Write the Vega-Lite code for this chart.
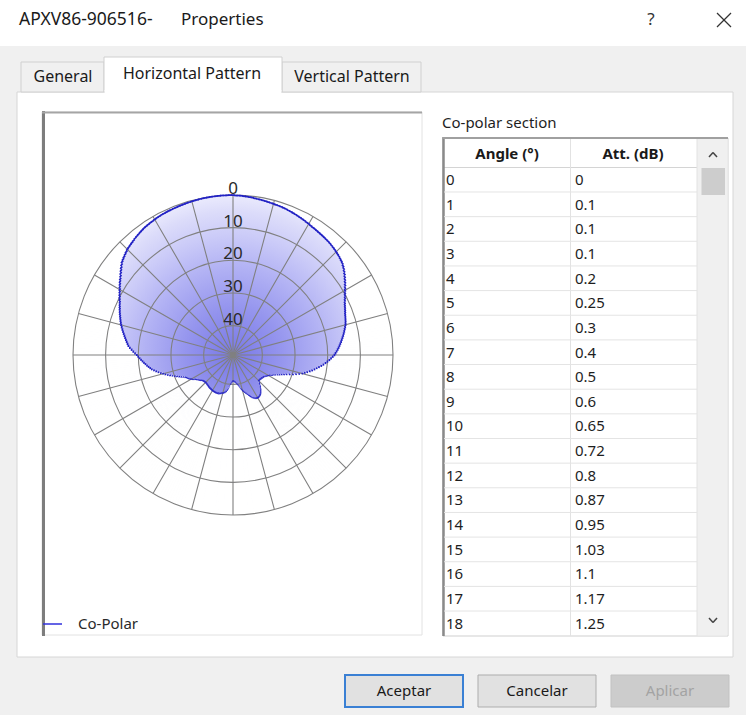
{
"$schema": "https://vega.github.io/schema/vega-lite/v6.json",
"width": 746, "height": 715,
"autosize": {"type": "fit", "contains": "padding"},
"padding": 0,
"background": "#ffffff",
"config": {"view": {"stroke": null}, "axis": {"disable": true}, "legend": {"disable": true}, "font": "Noto Sans"},
"data": {"values": [{}]},
"datasets": {
"pat": [
{"a":0,"att":0},{"a":1,"att":0.1},{"a":2,"att":0.1},{"a":3,"att":0.1},{"a":4,"att":0.2},{"a":5,"att":0.25},{"a":6,"att":0.3},{"a":7,"att":0.4},{"a":8,"att":0.5},{"a":9,"att":0.6},
{"a":10,"att":0.65},{"a":11,"att":0.72},{"a":12,"att":0.8},{"a":13,"att":0.87},{"a":14,"att":0.95},{"a":15,"att":1.03},{"a":16,"att":1.1},{"a":17,"att":1.17},{"a":18,"att":1.25},{"a":19,"att":1.33},
{"a":20,"att":1.42},{"a":21,"att":1.52},{"a":22,"att":1.62},{"a":23,"att":1.73},{"a":24,"att":1.85},{"a":25,"att":1.97},{"a":26,"att":2.1},{"a":27,"att":2.23},{"a":28,"att":2.36},{"a":29,"att":2.5},
{"a":30,"att":2.62},{"a":31,"att":2.74},{"a":32,"att":2.85},{"a":33,"att":2.95},{"a":34,"att":3.05},{"a":35,"att":3.14},{"a":36,"att":3.23},{"a":37,"att":3.32},{"a":38,"att":3.41},{"a":39,"att":3.5},
{"a":40,"att":3.6},{"a":41,"att":3.7},{"a":42,"att":3.82},{"a":43,"att":3.95},{"a":44,"att":4.1},{"a":45,"att":4.25},{"a":46,"att":4.42},{"a":47,"att":4.6},{"a":48,"att":4.8},{"a":49,"att":5.02},
{"a":50,"att":5.25},{"a":51,"att":5.6},{"a":52,"att":5.95},{"a":53,"att":6.35},{"a":54,"att":6.75},{"a":55,"att":7.2},{"a":56,"att":7.62},{"a":57,"att":8.05},{"a":58,"att":8.48},{"a":59,"att":8.92},
{"a":60,"att":9.35},{"a":61,"att":9.75},{"a":62,"att":10.12},{"a":63,"att":10.48},{"a":64,"att":10.84},{"a":65,"att":11.18},{"a":66,"att":11.45},{"a":67,"att":11.7},{"a":68,"att":11.94},{"a":69,"att":12.17},
{"a":70,"att":12.4},{"a":71,"att":12.57},{"a":72,"att":12.74},{"a":73,"att":12.92},{"a":74,"att":13.1},{"a":75,"att":13.3},{"a":76,"att":13.57},{"a":77,"att":13.85},{"a":78,"att":14.13},{"a":79,"att":14.41},
{"a":80,"att":14.7},{"a":81,"att":15.0},{"a":82,"att":15.3},{"a":83,"att":15.6},{"a":84,"att":15.9},{"a":85,"att":16.2},{"a":86,"att":16.52},{"a":87,"att":16.85},{"a":88,"att":17.19},{"a":89,"att":17.54},
{"a":90,"att":17.9},{"a":91,"att":18.4},{"a":92,"att":18.9},{"a":93,"att":19.4},{"a":94,"att":19.95},{"a":95,"att":20.5},{"a":96,"att":21.1},{"a":97,"att":21.7},{"a":98,"att":22.35},{"a":99,"att":22.98},
{"a":100,"att":23.6},{"a":101,"att":24.25},{"a":102,"att":24.9},{"a":103,"att":25.6},{"a":104,"att":26.3},{"a":105,"att":26.95},{"a":106,"att":27.85},{"a":107,"att":28.75},{"a":108,"att":29.65},{"a":109,"att":30.6},
{"a":110,"att":31.5},{"a":111,"att":32.2},{"a":112,"att":32.85},{"a":113,"att":33.45},{"a":114,"att":34.0},{"a":115,"att":34.6},{"a":116,"att":35.0},{"a":117,"att":35.4},{"a":118,"att":35.75},{"a":119,"att":36.1},
{"a":120,"att":36.4},{"a":121,"att":36.6},{"a":122,"att":36.8},{"a":123,"att":37.0},{"a":124,"att":37.2},{"a":125,"att":37.4},{"a":126,"att":37.45},{"a":127,"att":37.5},{"a":128,"att":37.6},{"a":129,"att":37.65},
{"a":130,"att":37.7},{"a":131,"att":37.75},{"a":132,"att":37.8},{"a":133,"att":37.8},{"a":134,"att":37.8},{"a":135,"att":37.8},{"a":136,"att":37.4},{"a":137,"att":37.0},{"a":138,"att":36.6},{"a":139,"att":36.2},
{"a":140,"att":35.8},{"a":141,"att":35.45},{"a":142,"att":35.1},{"a":143,"att":34.8},{"a":144,"att":34.55},{"a":145,"att":34.3},{"a":146,"att":34.15},{"a":147,"att":34.0},{"a":148,"att":33.9},{"a":149,"att":33.85},
{"a":150,"att":33.8},{"a":151,"att":33.85},{"a":152,"att":33.95},{"a":153,"att":34.1},{"a":154,"att":34.3},{"a":155,"att":34.5},{"a":156,"att":34.8},{"a":157,"att":35.15},{"a":158,"att":35.5},{"a":159,"att":35.85},
{"a":160,"att":36.2},{"a":161,"att":36.5},{"a":162,"att":36.8},{"a":163,"att":37.1},{"a":164,"att":37.4},{"a":165,"att":37.7},{"a":166,"att":38.05},{"a":167,"att":38.4},{"a":168,"att":38.8},{"a":169,"att":39.15},
{"a":170,"att":39.5},{"a":171,"att":39.75},{"a":172,"att":40.0},{"a":173,"att":40.2},{"a":174,"att":40.4},{"a":175,"att":40.6},{"a":176,"att":40.7},{"a":177,"att":40.8},{"a":178,"att":40.9},{"a":179,"att":40.95},
{"a":180,"att":41.0},{"a":181,"att":40.85},{"a":182,"att":40.7},{"a":183,"att":40.5},{"a":184,"att":40.25},{"a":185,"att":40.0},{"a":186,"att":39.5},{"a":187,"att":39.0},{"a":188,"att":38.5},{"a":189,"att":38.1},
{"a":190,"att":37.7},{"a":191,"att":37.5},{"a":192,"att":37.3},{"a":193,"att":37.15},{"a":194,"att":37.0},{"a":195,"att":36.9},{"a":196,"att":36.8},{"a":197,"att":36.7},{"a":198,"att":36.6},{"a":199,"att":36.5},
{"a":200,"att":36.4},{"a":201,"att":36.38},{"a":202,"att":36.35},{"a":203,"att":36.32},{"a":204,"att":36.3},{"a":205,"att":36.3},{"a":206,"att":36.32},{"a":207,"att":36.34},{"a":208,"att":36.36},{"a":209,"att":36.38},
{"a":210,"att":36.4},{"a":211,"att":36.45},{"a":212,"att":36.5},{"a":213,"att":36.55},{"a":214,"att":36.6},{"a":215,"att":36.6},{"a":216,"att":36.65},{"a":217,"att":36.7},{"a":218,"att":36.8},{"a":219,"att":36.85},
{"a":220,"att":36.9},{"a":221,"att":36.95},{"a":222,"att":37.0},{"a":223,"att":37.05},{"a":224,"att":37.1},{"a":225,"att":37.1},{"a":226,"att":37.05},{"a":227,"att":37.0},{"a":228,"att":36.95},{"a":229,"att":36.9},
{"a":230,"att":36.8},{"a":231,"att":36.6},{"a":232,"att":36.4},{"a":233,"att":36.2},{"a":234,"att":36.0},{"a":235,"att":35.8},{"a":236,"att":35.5},{"a":237,"att":35.2},{"a":238,"att":34.85},{"a":239,"att":34.5},
{"a":240,"att":34.2},{"a":241,"att":33.9},{"a":242,"att":33.6},{"a":243,"att":33.35},{"a":244,"att":33.1},{"a":245,"att":32.8},{"a":246,"att":32.3},{"a":247,"att":31.75},{"a":248,"att":31.2},{"a":249,"att":30.6},
{"a":250,"att":30.0},{"a":251,"att":29.35},{"a":252,"att":28.7},{"a":253,"att":28.05},{"a":254,"att":27.4},{"a":255,"att":26.8},{"a":256,"att":26.15},{"a":257,"att":25.5},{"a":258,"att":24.9},{"a":259,"att":24.3},
{"a":260,"att":23.7},{"a":261,"att":23.27},{"a":262,"att":22.85},{"a":263,"att":22.43},{"a":264,"att":22.0},{"a":265,"att":21.6},{"a":266,"att":21.18},{"a":267,"att":20.76},{"a":268,"att":20.34},{"a":269,"att":19.92},
{"a":270,"att":19.5},{"a":271,"att":18.95},{"a":272,"att":18.4},{"a":273,"att":17.85},{"a":274,"att":17.3},{"a":275,"att":16.8},{"a":276,"att":16.48},{"a":277,"att":16.16},{"a":278,"att":15.84},{"a":279,"att":15.52},
{"a":280,"att":15.2},{"a":281,"att":14.86},{"a":282,"att":14.52},{"a":283,"att":14.18},{"a":284,"att":13.84},{"a":285,"att":13.5},{"a":286,"att":13.22},{"a":287,"att":12.94},{"a":288,"att":12.66},{"a":289,"att":12.38},
{"a":290,"att":12.1},{"a":291,"att":11.82},{"a":292,"att":11.54},{"a":293,"att":11.26},{"a":294,"att":10.98},{"a":295,"att":10.7},{"a":296,"att":10.34},{"a":297,"att":9.98},{"a":298,"att":9.62},{"a":299,"att":9.26},
{"a":300,"att":8.9},{"a":301,"att":8.5},{"a":302,"att":8.1},{"a":303,"att":7.7},{"a":304,"att":7.3},{"a":305,"att":6.9},{"a":306,"att":6.44},{"a":307,"att":5.98},{"a":308,"att":5.52},{"a":309,"att":5.06},
{"a":310,"att":4.6},{"a":311,"att":4.32},{"a":312,"att":4.04},{"a":313,"att":3.76},{"a":314,"att":3.48},{"a":315,"att":3.2},{"a":316,"att":3.02},{"a":317,"att":2.84},{"a":318,"att":2.66},{"a":319,"att":2.48},
{"a":320,"att":2.3},{"a":321,"att":2.14},{"a":322,"att":1.98},{"a":323,"att":1.82},{"a":324,"att":1.66},{"a":325,"att":1.5},{"a":326,"att":1.4},{"a":327,"att":1.3},{"a":328,"att":1.2},{"a":329,"att":1.1},
{"a":330,"att":1.0},{"a":331,"att":0.93},{"a":332,"att":0.87},{"a":333,"att":0.8},{"a":334,"att":0.74},{"a":335,"att":0.67},{"a":336,"att":0.63},{"a":337,"att":0.59},{"a":338,"att":0.54},{"a":339,"att":0.5},
{"a":340,"att":0.46},{"a":341,"att":0.42},{"a":342,"att":0.38},{"a":343,"att":0.33},{"a":344,"att":0.29},{"a":345,"att":0.25},{"a":346,"att":0.22},{"a":347,"att":0.19},{"a":348,"att":0.16},{"a":349,"att":0.13},
{"a":350,"att":0.1},{"a":351,"att":0.08},{"a":352,"att":0.06},{"a":353,"att":0.04},{"a":354,"att":0.02},{"a":355,"att":0},{"a":356,"att":0},{"a":357,"att":0},{"a":358,"att":0},{"a":359,"att":0}
]
},
"resolve": {"scale": {"y": "independent"}},
"layer": [
{"layer": [
{"mark": {"type": "rect", "fill": "#f0f0f0"},
 "encoding": {
  "x": {"datum": 0, "type": "quantitative", "scale": {"domain": [0, 746], "nice": false, "zero": false}},
  "x2": {"datum": 746},
  "y": {"datum": 0, "type": "quantitative", "scale": {"domain": [0, 715], "nice": false, "zero": false, "reverse": true}},
  "y2": {"datum": 715}}},
{"mark": {"type": "rect", "fill": "#ffffff"},
 "encoding": {"x": {"datum": 0}, "x2": {"datum": 746}, "y": {"datum": 0}, "y2": {"datum": 46}}},
{"mark": {"type": "rect", "fill": "#ffffff", "stroke": "#d6d6d6", "strokeWidth": 1},
 "encoding": {"x": {"datum": 17}, "x2": {"datum": 733}, "y": {"datum": 92}, "y2": {"datum": 657}}},
{"mark": {"type": "rect", "fill": "#f0f0f0", "stroke": "#d0d0d0", "strokeWidth": 1},
 "encoding": {"x": {"datum": 21}, "x2": {"datum": 104}, "y": {"datum": 62}, "y2": {"datum": 92}}},
{"mark": {"type": "rect", "fill": "#f0f0f0", "stroke": "#d0d0d0", "strokeWidth": 1},
 "encoding": {"x": {"datum": 282}, "x2": {"datum": 421}, "y": {"datum": 62}, "y2": {"datum": 92}}},
{"mark": {"type": "rect", "fill": "#ffffff", "stroke": "#d0d0d0", "strokeWidth": 1},
 "encoding": {"x": {"datum": 104}, "x2": {"datum": 282}, "y": {"datum": 57}, "y2": {"datum": 92}}},
{"mark": {"type": "rect", "fill": "#ffffff"},
 "encoding": {"x": {"datum": 104.6}, "x2": {"datum": 281.4}, "y": {"datum": 90}, "y2": {"datum": 93.5}}},
{"mark": {"type": "text", "align": "center", "baseline": "middle", "fontSize": 16, "color": "#1a1a1a"},
 "encoding": {"x": {"datum": 63}, "y": {"datum": 77}, "text": {"value": "General"}}},
{"mark": {"type": "text", "align": "center", "baseline": "middle", "fontSize": 16, "color": "#1a1a1a"},
 "encoding": {"x": {"datum": 192}, "y": {"datum": 74}, "text": {"value": "Horizontal Pattern"}}},
{"mark": {"type": "text", "align": "center", "baseline": "middle", "fontSize": 16, "color": "#1a1a1a"},
 "encoding": {"x": {"datum": 352}, "y": {"datum": 77}, "text": {"value": "Vertical Pattern"}}},

{"mark": {"type": "rect", "fill": "#ffffff", "stroke": "#e2e2e2", "strokeWidth": 1},
 "encoding": {"x": {"datum": 42}, "x2": {"datum": 422}, "y": {"datum": 112}, "y2": {"datum": 635}}},

{"mark": {"type": "arc", "strokeWidth": 0, "radius": 160, "radius2": 0,
  "fill": {"gradient": "radial", "x1": 0.5, "y1": 0.5, "r1": 0, "x2": 0.5, "y2": 0.5, "r2": 0.5,
   "stops": [{"offset": 0, "color": "#7878e6"}, {"offset": 0.3, "color": "#9595ee"}, {"offset": 0.55, "color": "#b2b2f4"}, {"offset": 0.75, "color": "#cbcbf8"}, {"offset": 0.9, "color": "#dcdcfa"}, {"offset": 1, "color": "#ebebfd"}]}},
 "encoding": {"x": {"datum": 233, "stack": null}, "y": {"datum": 355}}},

{"data": {"name": "pat"},
 "mark": {"type": "arc", "fill": "#ffffff", "stroke": "#ffffff", "strokeWidth": 1, "thetaOffset": -0.0095, "theta2Offset": 0.0095, "radius2": 162},
 "encoding": {
  "x": {"datum": 233, "stack": null}, "y": {"datum": 355},
  "theta": {"field": "a", "type": "quantitative", "stack": null, "scale": {"domain": [0, 360], "range": [0, 6.283185307179586]}},
  "theta2": {"field": "a"},
  "radius": {"field": "att", "type": "quantitative", "stack": null, "scale": {"type": "linear", "domain": [0, 49], "range": [160, 0], "zero": false}}}},

{"data": {"values": [{"db": 0}, {"db": 10}, {"db": 20}, {"db": 30}, {"db": 40}]},
 "mark": {"type": "arc", "filled": false, "stroke": "#808080", "strokeWidth": 1.1, "radius2": 0},
 "encoding": {
  "x": {"datum": 233, "stack": null}, "y": {"datum": 355},
  "radius": {"field": "db", "type": "quantitative", "stack": null}}},

{"data": {"values": [{"s": 0}, {"s": 15}, {"s": 30}, {"s": 45}, {"s": 60}, {"s": 75}, {"s": 90}, {"s": 105}, {"s": 120}, {"s": 135}, {"s": 150}, {"s": 165}, {"s": 180}, {"s": 195}, {"s": 210}, {"s": 225}, {"s": 240}, {"s": 255}, {"s": 270}, {"s": 285}, {"s": 300}, {"s": 315}, {"s": 330}, {"s": 345}]},
 "mark": {"type": "arc", "filled": false, "stroke": "#808080", "strokeWidth": 1.1, "radius": 160, "radius2": 0},
 "encoding": {
  "x": {"datum": 233, "stack": null}, "y": {"datum": 355},
  "theta": {"field": "s", "type": "quantitative", "stack": null},
  "theta2": {"field": "s"}}},

{"data": {"name": "pat"},
 "mark": {"type": "arc", "fill": "#2222c4", "strokeWidth": 0, "thetaOffset": -0.0115, "theta2Offset": 0.0115, "radiusOffset": 0.7, "radius2Offset": -1.0},
 "encoding": {
  "x": {"datum": 233, "stack": null}, "y": {"datum": 355},
  "theta": {"field": "a", "type": "quantitative", "stack": null},
  "theta2": {"field": "a"},
  "radius": {"field": "att", "type": "quantitative", "stack": null},
  "radius2": {"field": "att"}}},

{"data": {"values": [{"db": 0}, {"db": 10}, {"db": 20}, {"db": 30}, {"db": 40}]},
 "mark": {"type": "text", "align": "center", "baseline": "middle", "fontSize": 17, "color": "#2a2a2a", "dy": -6},
 "encoding": {
  "x": {"datum": 233, "stack": null}, "y": {"datum": 355},
  "radius": {"field": "db", "type": "quantitative", "stack": null},
  "text": {"field": "db", "type": "nominal"}}},

{"mark": {"type": "rule", "color": "#7d7d7d", "strokeWidth": 3},
 "encoding": {"x": {"datum": 43.5}, "y": {"datum": 111}, "y2": {"datum": 636}}},
{"mark": {"type": "rule", "color": "#a5a5a5", "strokeWidth": 2},
 "encoding": {"x": {"datum": 42}, "x2": {"datum": 422}, "y": {"datum": 112.5}}},
{"mark": {"type": "rule", "color": "#3030dc", "strokeWidth": 1.5},
 "encoding": {"x": {"datum": 43}, "x2": {"datum": 62}, "y": {"datum": 624}}},
{"mark": {"type": "text", "align": "left", "baseline": "middle", "fontSize": 15, "color": "#2a2a2a"},
 "encoding": {"x": {"datum": 78}, "y": {"datum": 624}, "text": {"value": "Co-Polar"}}},

{"mark": {"type": "text", "align": "left", "baseline": "middle", "fontSize": 15, "color": "#1e1e1e"},
 "encoding": {"x": {"datum": 442}, "y": {"datum": 123}, "text": {"value": "Co-polar section"}}},
{"mark": {"type": "rect", "fill": "#ffffff", "stroke": "#cfcfcf", "strokeWidth": 1},
 "encoding": {"x": {"datum": 443}, "x2": {"datum": 728}, "y": {"datum": 138}, "y2": {"datum": 636}}},
{"mark": {"type": "rect", "fill": "#f0f0f0"},
 "encoding": {"x": {"datum": 697}, "x2": {"datum": 727.5}, "y": {"datum": 139}, "y2": {"datum": 635.5}}},
{"mark": {"type": "rect", "fill": "#cdcdcd"},
 "encoding": {"x": {"datum": 701.5}, "x2": {"datum": 725}, "y": {"datum": 168}, "y2": {"datum": 195}}},
{"mark": {"type": "rule", "color": "#d4d4d4", "strokeWidth": 1},
 "encoding": {"x": {"datum": 444}, "x2": {"datum": 697}, "y": {"datum": 167.5}}},
{"mark": {"type": "rule", "color": "#e2e2e2", "strokeWidth": 1},
 "encoding": {"x": {"datum": 570.5}, "y": {"datum": 139}, "y2": {"datum": 636}}},
{"mark": {"type": "rule", "color": "#e2e2e2", "strokeWidth": 1},
 "encoding": {"x": {"datum": 697}, "y": {"datum": 139}, "y2": {"datum": 636}}},
{"mark": {"type": "rule", "color": "#8a8a8a", "strokeWidth": 2.5},
 "encoding": {"x": {"datum": 443.5}, "y": {"datum": 137}, "y2": {"datum": 636}}},
{"mark": {"type": "rule", "color": "#a0a0a0", "strokeWidth": 2},
 "encoding": {"x": {"datum": 443}, "x2": {"datum": 728}, "y": {"datum": 138}}},
{"mark": {"type": "text", "align": "center", "baseline": "middle", "fontSize": 15, "fontWeight": "bold", "color": "#1a1a1a"},
 "encoding": {"x": {"datum": 507}, "y": {"datum": 154}, "text": {"value": "Angle (°)"}}},
{"mark": {"type": "text", "align": "center", "baseline": "middle", "fontSize": 15, "fontWeight": "bold", "color": "#1a1a1a"},
 "encoding": {"x": {"datum": 633}, "y": {"datum": 154}, "text": {"value": "Att. (dB)"}}},
{"mark": {"type": "rule", "color": "#444444", "strokeWidth": 1.5},
 "encoding": {"x": {"datum": 709}, "y": {"datum": 157}, "x2": {"datum": 713}, "y2": {"datum": 152.5}}},
{"mark": {"type": "rule", "color": "#444444", "strokeWidth": 1.5},
 "encoding": {"x": {"datum": 713}, "y": {"datum": 152.5}, "x2": {"datum": 717}, "y2": {"datum": 157}}},
{"mark": {"type": "rule", "color": "#444444", "strokeWidth": 1.5},
 "encoding": {"x": {"datum": 709}, "y": {"datum": 618}, "x2": {"datum": 713}, "y2": {"datum": 622.5}}},
{"mark": {"type": "rule", "color": "#444444", "strokeWidth": 1.5},
 "encoding": {"x": {"datum": 713}, "y": {"datum": 622.5}, "x2": {"datum": 717}, "y2": {"datum": 618}}},

{"mark": {"type": "rect", "fill": "#e1e1e1", "stroke": "#3a80d4", "strokeWidth": 2},
 "encoding": {"x": {"datum": 345}, "x2": {"datum": 463}, "y": {"datum": 675}, "y2": {"datum": 707}}},
{"mark": {"type": "rect", "fill": "#e1e1e1", "stroke": "#adadad", "strokeWidth": 1},
 "encoding": {"x": {"datum": 478}, "x2": {"datum": 596}, "y": {"datum": 675}, "y2": {"datum": 707}}},
{"mark": {"type": "rect", "fill": "#cccccc", "stroke": "#c2c2c2", "strokeWidth": 1},
 "encoding": {"x": {"datum": 611}, "x2": {"datum": 729}, "y": {"datum": 675}, "y2": {"datum": 707}}},
{"mark": {"type": "text", "align": "center", "baseline": "middle", "fontSize": 15, "color": "#1a1a1a"},
 "encoding": {"x": {"datum": 404}, "y": {"datum": 691}, "text": {"value": "Aceptar"}}},
{"mark": {"type": "text", "align": "center", "baseline": "middle", "fontSize": 15, "color": "#1a1a1a"},
 "encoding": {"x": {"datum": 537}, "y": {"datum": 691}, "text": {"value": "Cancelar"}}},
{"mark": {"type": "text", "align": "center", "baseline": "middle", "fontSize": 15, "color": "#a3a3a3"},
 "encoding": {"x": {"datum": 670}, "y": {"datum": 691}, "text": {"value": "Aplicar"}}},

{"mark": {"type": "text", "align": "left", "baseline": "middle", "fontSize": 17.5, "color": "#1a1a1a"},
 "encoding": {"x": {"datum": 19}, "y": {"datum": 20}, "text": {"value": "APXV86-906516-"}}},
{"mark": {"type": "text", "align": "left", "baseline": "middle", "fontSize": 17, "color": "#1a1a1a"},
 "encoding": {"x": {"datum": 181}, "y": {"datum": 20}, "text": {"value": "Properties"}}},
{"mark": {"type": "text", "align": "center", "baseline": "middle", "fontSize": 17, "color": "#333333"},
 "encoding": {"x": {"datum": 651}, "y": {"datum": 20}, "text": {"value": "?"}}},
{"mark": {"type": "rule", "color": "#333333", "strokeWidth": 1.3},
 "encoding": {"x": {"datum": 717}, "y": {"datum": 13}, "x2": {"datum": 731}, "y2": {"datum": 27}}},
{"mark": {"type": "rule", "color": "#333333", "strokeWidth": 1.3},
 "encoding": {"x": {"datum": 717}, "y": {"datum": 27}, "x2": {"datum": 731}, "y2": {"datum": 13}}}
]},
{"data": {"name": "pat"},
 "transform": [{"filter": "datum.a <= 18"}],
 "layer": [
 {"transform": [{"filter": "datum.a <= 17"}],
  "mark": {"type": "rule", "color": "#e4e4e4", "strokeWidth": 1, "yOffset": 12},
  "encoding": {"x": {"datum": 444}, "x2": {"datum": 697},
   "y": {"field": "a", "type": "quantitative", "scale": {"domain": [-7.302, 21.704], "nice": false, "zero": false, "reverse": true}}}},
 {"mark": {"type": "text", "align": "left", "baseline": "middle", "fontSize": 15, "color": "#1e1e1e"},
  "encoding": {"x": {"datum": 446}, "y": {"field": "a", "type": "quantitative"},
   "text": {"field": "a", "type": "nominal"}}},
 {"mark": {"type": "text", "align": "left", "baseline": "middle", "fontSize": 15, "color": "#1e1e1e"},
  "encoding": {"x": {"datum": 575}, "y": {"field": "a", "type": "quantitative"},
   "text": {"field": "att", "type": "nominal"}}}
 ]}
]
}
